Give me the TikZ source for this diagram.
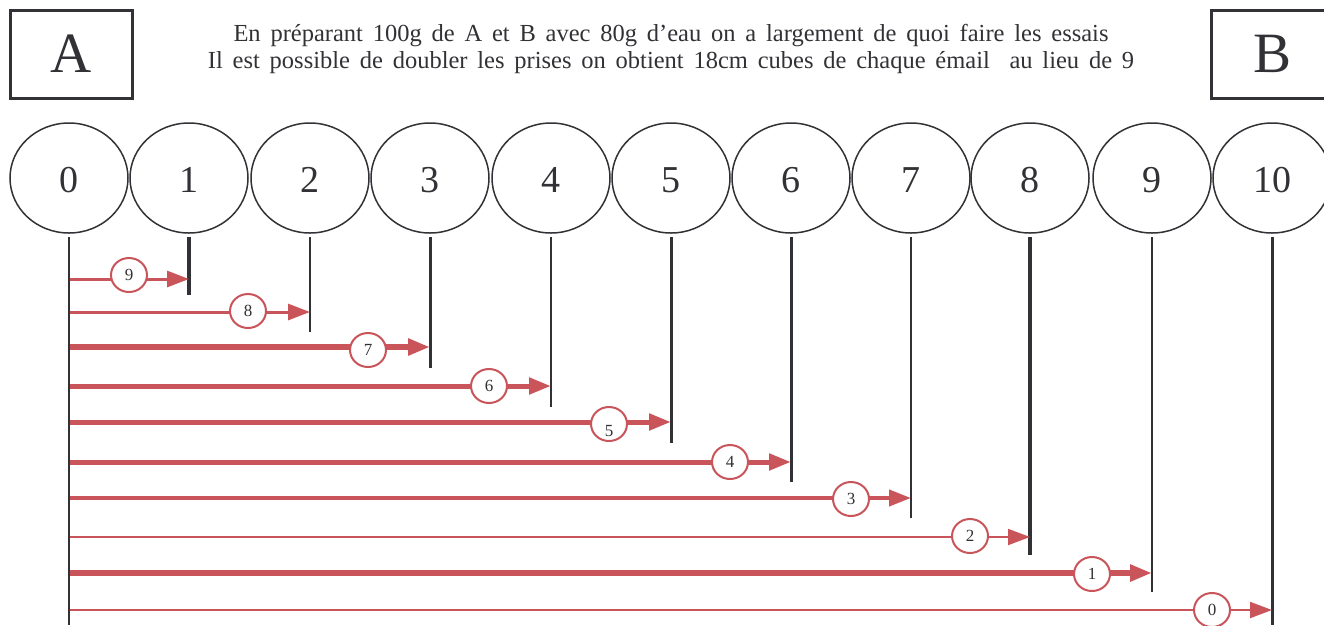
\documentclass[tikz,border=0pt]{standalone}
\usepackage{fontspec}
\setmainfont{Liberation Serif}
\usetikzlibrary{arrows.meta,shapes.geometric}
\definecolor{ink}{HTML}{323236}
\definecolor{rd}{HTML}{C9555A}
\newcommand\myhdrfont{\fontsize{24.5}{26}\selectfont\spaceskip=9.8pt plus 1pt\relax}
\begin{document}
\begin{tikzpicture}[x=1pt,y=-1pt,
  bigc/.style={ellipse,draw=ink,line width=1.5pt,minimum width=118pt,minimum height=110pt,inner sep=0pt,font=\fontsize{38}{38}\selectfont,text=ink},
  boxn/.style={draw=ink,line width=3pt,minimum width=122pt,minimum height=88pt,inner sep=0pt,font=\fontsize{57}{57}\selectfont,text=ink},
  hdr/.style={anchor=base,font=\myhdrfont,text=ink,inner sep=0pt},
  vline/.style={draw=ink,line width=#1},
  arr/.style={draw=rd,line width=#1,-{Triangle[length=22pt,width=16pt]}},
  lab/.style={ellipse,draw=rd,line width=2pt,fill=white,minimum width=36pt,minimum height=34pt,inner sep=0pt,font=\fontsize{17}{17}\selectfont,text=ink},
]
\useasboundingbox (0,0) rectangle (1324,625);
\fill[white] (0,0) rectangle (1324,625);
% boxes
\node[boxn] (A) at (71,54) {A};
\node[boxn] (B) at (1272,54) {B};
% header
\node[hdr] (h1) at (671,41) {En préparant 100g de A et B avec 80g d’eau on a largement de quoi faire les essais};
\node[hdr] (h2) at (671,68) {Il est possible de doubler les prises on obtient 18cm cubes de chaque émail\ \ au lieu de 9};
% big circles
\foreach \i/\x in {0/69,1/189,2/310,3/430,4/551,5/671,6/791,7/911,8/1030,9/1152,10/1272}{
  \node[bigc] (c\i) at (\x,178) {};
  \node[font=\fontsize{38}{38}\selectfont,text=ink,inner sep=0pt] (n\i) at (\x,180) {\i};
  \coordinate (top\i) at (\x,237);
}
% vertical lines
\foreach \i/\e/\w in {0/625/2pt,1/295/4pt,2/332/2pt,3/368/3pt,4/407/2.5pt,5/443/3pt,6/482/3pt,7/518/2.5pt,8/555/4pt,9/592/2pt,10/625/3pt}{
  \coordinate (bot\i) at (top\i |- 0,\e);
  \draw[vline=\w] (top\i) -- (bot\i);
}
% arrows
\foreach \k/\t/\y/\w/\lx/\ly in {9/1/279/3pt/129/275,8/2/312/3pt/248/311,7/3/347/6pt/368/350,6/4/386/5pt/489/386,4/6/462/5pt/730/462,3/7/498/4pt/851/499,2/8/537/2pt/970/536,1/9/573/6pt/1092/574,0/10/610/2pt/1212/610}{
  \coordinate (s\k) at (70,\y);
  \coordinate (t\k) at (top\t |- 0,\y);
  \draw[arr=\w] (s\k) -- (t\k);
  \node[lab] (l\k) at (\lx,\ly) {\k};
}
\coordinate (s5) at (70,422);
\coordinate (t5) at (top5 |- 0,422);
\draw[arr=5pt] (s5) -- (t5);
\node[lab,label={[yshift=-7pt,font=\fontsize{17}{17}\selectfont,text=ink]center:5}] (l5) at (609,424) {};
\end{tikzpicture}
\end{document}
